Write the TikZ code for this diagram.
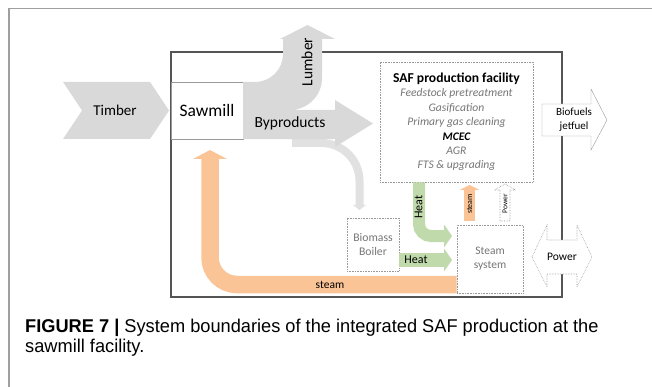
\documentclass[tikz,border=0pt]{standalone}
\usepackage{fontspec}
\setmainfont{Carlito}
\newfontfamily\capfont{Liberation Sans}[FakeStretch=0.985]
\usepackage{tikz}
\usetikzlibrary{arrows.meta}
\definecolor{lgray}{RGB}{217,217,217}
\definecolor{llgray}{RGB}{225,225,225}
\definecolor{peach}{RGB}{250,196,150}
\definecolor{lgreen}{RGB}{192,218,172}
\definecolor{txtgray}{RGB}{118,118,118}
\definecolor{bordgray}{RGB}{85,85,85}
\newcommand{\fs}[1]{\fontsize{#1}{#1}\selectfont}

\tikzset{
  dotbox/.style={draw=gray!80, densely dotted, line width=0.6pt, fill=white, inner sep=0pt},
  heatflow/.style={lgreen, line width=#1, rounded corners=12},
  steamflow/.style={peach, line width=#1, rounded corners=27}
}

\begin{document}
\begin{tikzpicture}[x=1pt, y=-1pt]
    \useasboundingbox (0,0) rectangle (652,387);
    \draw[gray!75, line width=1.3] (652,8.5) -- (9,8.5) -- (9,387);

    % system boundary
    \node [draw=bordgray, line width=1.1, minimum width=391, minimum height=245, inner sep=0] (sys) at (366.5,174.5) {};

    % timber in
    \fill[lgray] (63,82) -- (150,82) -- (169,110.5) -- (150,139) -- (63,139) -- (82,110.5) -- cycle;
    \node [font=\fs{15}] (timber) at (115,110.5) {Timber};

    \node [draw=gray!80, fill=white, minimum width=72, minimum height=57, inner sep=0, font=\fs{17.5}] (saw) at (207,110.5) {Sawmill};

    % byproducts to boiler
    \draw[llgray, line width=8, rounded corners=38, -{Triangle[width=13,length=5,line width=0pt]}] (292,143) -| (359.5,210);

    % lumber + byproducts
    \fill[lgray] (saw.north east) -- (255,82) arc[start angle=90, end angle=0, radius=28] -- (283,39) -- (280,39) -- (307.5,25) -- (335,39) -- (322,39) -- (322,78)
      arc[start angle=0, end angle=90, radius=32] -- (335,110) -- (335,100) -- (373,123.5) -- (335,147) -- (335,139) -- (saw.south east) -- cycle;
    \node [rotate=90, font=\fs{15.5}] (lumber) at (307,62) {Lumber};
    \node [font=\fs{15.5}] (byprod) at (290,123.5) {Byproducts};

    % SAF facility
    \node [dotbox, minimum width=153, minimum height=120] (saf) at (456.5,122) {};
    \node [align=center, font=\fontsize{11.6}{14.4}\selectfont, text=txtgray] (saftxt) at (saf.center)
      {{\color{black}\fs{13.6}\bfseries SAF production facility}\\
       \itshape Feedstock pretreatment\\ \itshape Gasification\\ \itshape Primary gas cleaning\\
       {\color{black}\bfseries\itshape MCEC}\\ \itshape AGR\\ \itshape FTS \& upgrading};

    \node [dotbox, minimum width=52, minimum height=53, align=center, text=txtgray, font=\fontsize{11.7}{14}\selectfont] (boiler) at (373,244.5) {Biomass\\Boiler};
    \node [dotbox, minimum width=66, minimum height=68, align=center, text=txtgray, font=\fontsize{11.5}{14}\selectfont] (steam) at (490,259) {Steam\\system};

    % steam back to the sawmill
    \draw[steamflow=17.5, -{Triangle[width=34,length=9,line width=0pt]}] (steam.west |- 0,284.5) -| (210,150);
    \node [font=\fs{11.5}] (steamlbl) at (330,285) {steam};

    % heat
    \draw[heatflow=12, -{Triangle[width=23,length=8,line width=0pt]}] ([xshift=-37.5]saf.south) |- (452,236);
    \node [rotate=90, font=\fs{12}] (heat1) at (418.5,207) {Heat};
    \draw[lgreen, line width=14, -{Triangle[width=23,length=8,line width=0pt]}] (boiler.east |- 0,260) -- (452,260);
    \node [font=\fs{12}] (heat2) at (416,260) {Heat};

    % steam and power to SAF
    \draw[peach, line width=11, -{Triangle[width=20,length=5,line width=0pt]}] (469.5,221) -- (469.5,185);
    \node [rotate=90, font=\fs{8}] (steamsm) at (469.5,204) {steam};
    \draw[dotbox] (500,221) -- (500,190) -- (494.5,190) -- (505,184) -- (515.5,190) -- (510,190) -- (510,221) -- cycle;
    \node [rotate=90, font=\fs{7.5}] (powersm) at (505,204) {Power};

    % products out
    \draw[draw=gray!80, fill=white] (542,104) -- (591,104) -- (591,89) -- (607,120) -- (591,150) -- (591,136) -- (542,136) -- cycle;
    \node [align=center, font=\fontsize{11}{14}\selectfont] (fuel) at (574,120) {Biofuels\\jetfuel};
    \draw[dotbox] (532,257) -- (547,225) -- (547,240) -- (577,240) -- (577,225) -- (592,257) -- (577,287) -- (577,274) -- (547,274) -- (547,287) -- cycle;
    \node [font=\fs{11.5}] (power) at (562,257) {Power};

    \node [anchor=base west, align=left, inner sep=0, font=\capfont\fontsize{18.5}{20}\selectfont] (cap) at (25,352)
      {\textbf{FIGURE 7 |} System boundaries of the integrated SAF production at the\\sawmill facility.};
\end{tikzpicture}
\end{document}
